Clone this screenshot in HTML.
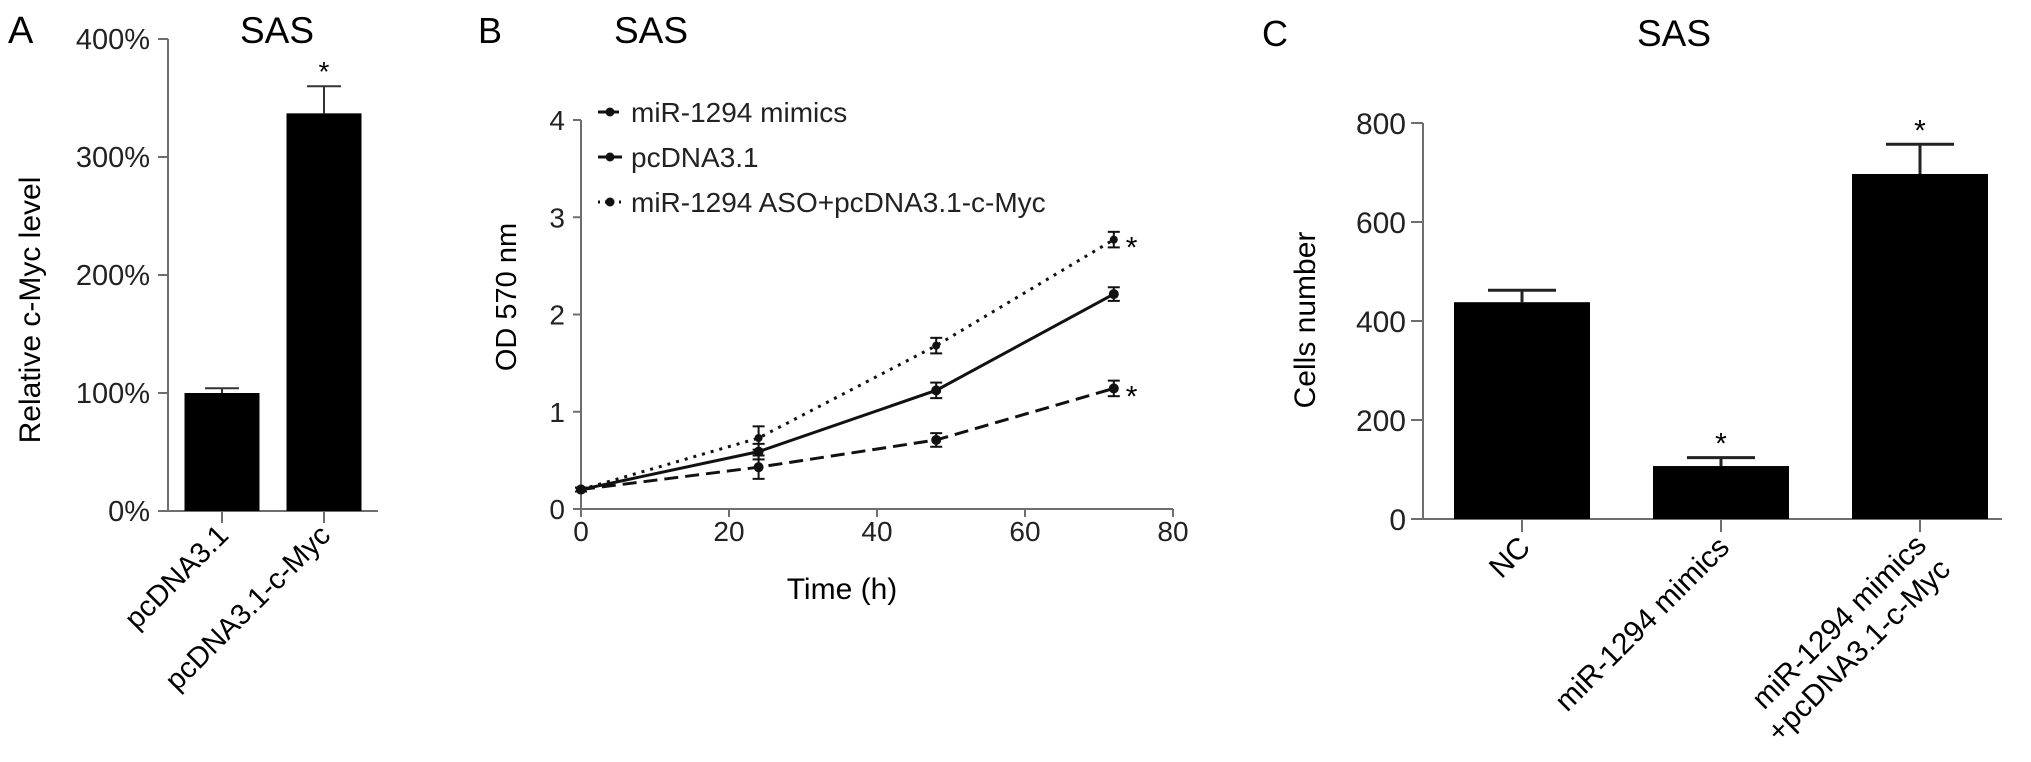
<!DOCTYPE html>
<html><head><meta charset="utf-8"><style>
html,body{margin:0;padding:0;background:#fff;}
svg{display:block;font-family:"Liberation Sans",Arial,sans-serif;}
</style></head><body>
<svg id="fig" width="2031" height="762" viewBox="0 0 2031 762">
<g id="pa"></g>
<g id="pb"></g>
<g id="pc"></g>
</svg>
<script>
// Panel A data
const aCats = ["pcDNA3.1", "pcDNA3.1-c-Myc"];
const aVals = [100, 337];
const aErr = [4, 23];
const aSig = [false, true];
const aTicks = [0, 100, 200, 300, 400];
// Panel B data
const bTimes = [0, 24, 48, 72];
const bMimics = [0.2, 0.43, 0.71, 1.24];
const bMimicsErr = [0.02, 0.12, 0.07, 0.08];
const bPc = [0.2, 0.59, 1.22, 2.21];
const bPcErr = [0.02, 0.08, 0.08, 0.07];
const bAso = [0.2, 0.73, 1.68, 2.77];
const bAsoErr = [0.02, 0.12, 0.08, 0.08];
const bYTicks = [0, 1, 2, 3, 4];
const bXTicks = [0, 20, 40, 60, 80];
const bSeriesNames = ["miR-1294 mimics", "pcDNA3.1", "miR-1294 ASO+pcDNA3.1-c-Myc"];
// Panel C data
const cCats = [["NC"], ["miR-1294 mimics"], ["miR-1294 mimics", "+pcDNA3.1-c-Myc"]];
const cVals = [438, 107, 697];
const cErr = [24, 17, 60];
const cSig = [false, true, true];
const cTicks = [0, 200, 400, 600, 800];

const NS = "http://www.w3.org/2000/svg";
function mk(parent, tag, attrs, text) {
  const e = document.createElementNS(NS, tag);
  for (const k in attrs) e.setAttribute(k, attrs[k]);
  if (text !== undefined) e.textContent = text;
  parent.appendChild(e);
  return e;
}
const AX = "#6e6e6e";

// ---------- Panel A ----------
(function () {
  const g = document.getElementById("pa");
  const x0 = 168, y0 = 511, yTop = 39, xEnd = 378;
  const ya = v => y0 - (v / 400) * (y0 - yTop);
  let t = mk(g, "text", {x: 8, y: 43, "font-size": 38}, "A");
   
  t = mk(g, "text", {x: 277, y: 43, "font-size": 37, "text-anchor": "middle"}, "SAS");
   
  let l = mk(g, "line", {x1: x0, y1: yTop, x2: x0, y2: y0, stroke: AX, "stroke-width": 2});
   
  l = mk(g, "line", {x1: x0 - 10, y1: y0, x2: xEnd, y2: y0, stroke: AX, "stroke-width": 2});
   
  aTicks.forEach(v => {
    mk(g, "line", {x1: x0 - 10, y1: ya(v), x2: x0, y2: ya(v), stroke: AX, "stroke-width": 2});
    const tt = mk(g, "text", {x: 150, y: ya(v) + 10, "font-size": 29, "text-anchor": "end", fill: "#222"}, v + "%");
     
  });
  t = mk(g, "text", {x: 0, y: 0, "font-size": 30, "text-anchor": "middle", transform: "translate(40,310) rotate(-90)"}, "Relative c-Myc level");
   
  const bw = 75, step = 102, first = 222;
  aVals.forEach((v, i) => {
    const cx = first + i * step;
    const b = mk(g, "rect", {x: cx - bw / 2, y: ya(v), width: bw, height: y0 - ya(v), fill: "#000"});
     
    const ey = ya(v + aErr[i]);
    mk(g, "line", {x1: cx, y1: ey, x2: cx, y2: ya(v), stroke: "#333", "stroke-width": 2});
    mk(g, "line", {x1: cx - 17, y1: ey, x2: cx + 17, y2: ey, stroke: "#333", "stroke-width": 2});
    if (aSig[i]) {
      const s = mk(g, "text", {x: cx, y: ey - 5, "font-size": 28, "text-anchor": "middle"}, "*");
       
    }
    mk(g, "line", {x1: cx, y1: y0, x2: cx, y2: y0 + 12, stroke: AX, "stroke-width": 2});
    const lb = mk(g, "text", {x: 0, y: 0, "font-size": 29, "text-anchor": "end", transform: `translate(${cx + 8},${y0 + 26}) rotate(-45)`}, aCats[i]);
     
  });
})();

// ---------- Panel B ----------
(function () {
  const g = document.getElementById("pb");
  const x0 = 581, xEnd = 1173, y0 = 509, yTop = 120;
  const xb = v => x0 + (v / 80) * (xEnd - x0);
  const yb = v => y0 - (v / 4) * (y0 - yTop);
  let t = mk(g, "text", {x: 478, y: 43, "font-size": 36}, "B");
   
  t = mk(g, "text", {x: 651, y: 43, "font-size": 37, "text-anchor": "middle"}, "SAS");
   
  let l = mk(g, "line", {x1: x0, y1: yTop, x2: x0, y2: y0, stroke: AX, "stroke-width": 2});
   
  l = mk(g, "line", {x1: x0, y1: y0, x2: xEnd, y2: y0, stroke: AX, "stroke-width": 2});
   
  bYTicks.forEach(v => {
    mk(g, "line", {x1: x0 - 8, y1: yb(v), x2: x0, y2: yb(v), stroke: AX, "stroke-width": 2});
    const tt = mk(g, "text", {x: 565, y: yb(v) + 10, "font-size": 28, "text-anchor": "end", fill: "#222"}, v);
     
  });
  bXTicks.forEach(v => {
    mk(g, "line", {x1: xb(v), y1: y0, x2: xb(v), y2: y0 + 8, stroke: AX, "stroke-width": 2});
    const tt = mk(g, "text", {x: xb(v), y: 541, "font-size": 28, "text-anchor": "middle", fill: "#222"}, v);
     
  });
  t = mk(g, "text", {x: 0, y: 0, "font-size": 29, "text-anchor": "middle", transform: "translate(516,297) rotate(-90)"}, "OD 570 nm");
   
  t = mk(g, "text", {x: 842, y: 599, "font-size": 30, "text-anchor": "middle"}, "Time (h)");
   
  const series = [
    {vals: bMimics, err: bMimicsErr, dash: "14 7", name: "line-mimics", star: true},
    {vals: bPc, err: bPcErr, dash: "none", name: "line-pcdna3-1", star: false},
    {vals: bAso, err: bAsoErr, dash: "3 6", name: "line-aso-c-myc", star: true}
  ];
  series.forEach((s, si) => {
    const pts = s.vals.map((v, i) => xb(bTimes[i]) + "," + yb(v)).join(" ");
    const p = mk(g, "polyline", {points: pts, fill: "none", stroke: "#111", "stroke-width": 3, "stroke-dasharray": s.dash});
     
    s.vals.forEach((v, i) => {
      const cx = xb(bTimes[i]);
      const e1 = yb(v + s.err[i]), e2 = yb(v - s.err[i]);
      mk(g, "line", {x1: cx, y1: e1, x2: cx, y2: e2, stroke: "#111", "stroke-width": 2});
      mk(g, "line", {x1: cx - 6, y1: e1, x2: cx + 6, y2: e1, stroke: "#111", "stroke-width": 2});
      mk(g, "line", {x1: cx - 6, y1: e2, x2: cx + 6, y2: e2, stroke: "#111", "stroke-width": 2});
      const m = mk(g, "circle", {cx: cx, cy: yb(v), r: si === 2 ? 4 : 5, fill: "#111"});
       
    });
    if (s.star) {
      const n = s.vals.length - 1;
      const st = mk(g, "text", {x: xb(bTimes[n]) + 12, y: yb(s.vals[n]) + 18, "font-size": 30}, "*");
       
    }
    const ly = 112 + si * 45;
    const lg = mk(g, "g", {});
     
    mk(lg, "line", {x1: 598, y1: ly, x2: 622, y2: ly, stroke: "#111", "stroke-width": 3, "stroke-dasharray": si === 0 ? "9 3" : (si === 2 ? "2 5" : "none")});
    mk(lg, "circle", {cx: 610, cy: ly, r: 4.5, fill: "#111"});
    mk(lg, "text", {x: 631, y: ly + 10, "font-size": 28, fill: "#222"}, bSeriesNames[si]);
  });
})();

// ---------- Panel C ----------
(function () {
  const g = document.getElementById("pc");
  const x0 = 1423, xEnd = 2002, y0 = 519, yTop = 123;
  const yc = v => y0 - (v / 800) * (y0 - yTop);
  let t = mk(g, "text", {x: 1262, y: 46, "font-size": 36}, "C");
   
  t = mk(g, "text", {x: 1674, y: 46, "font-size": 37, "text-anchor": "middle"}, "SAS");
   
  let l = mk(g, "line", {x1: x0, y1: yTop, x2: x0, y2: y0, stroke: AX, "stroke-width": 2});
   
  l = mk(g, "line", {x1: x0 - 12, y1: y0, x2: xEnd, y2: y0, stroke: AX, "stroke-width": 2});
   
  cTicks.forEach(v => {
    mk(g, "line", {x1: x0 - 12, y1: yc(v), x2: x0, y2: yc(v), stroke: AX, "stroke-width": 2});
    const tt = mk(g, "text", {x: 1406, y: yc(v) + 11, "font-size": 30, "text-anchor": "end", fill: "#222"}, v);
     
  });
  t = mk(g, "text", {x: 0, y: 0, "font-size": 30, "text-anchor": "middle", transform: "translate(1315,320) rotate(-90)"}, "Cells number");
   
  const bw = 136, step = 199, first = 1522;
  cVals.forEach((v, i) => {
    const cx = first + i * step;
    const b = mk(g, "rect", {x: cx - bw / 2, y: yc(v), width: bw, height: y0 - yc(v), fill: "#000"});
     
    const ey = yc(v + cErr[i]);
    mk(g, "line", {x1: cx, y1: ey, x2: cx, y2: yc(v), stroke: "#222", "stroke-width": 3});
    mk(g, "line", {x1: cx - 34, y1: ey, x2: cx + 34, y2: ey, stroke: "#222", "stroke-width": 3});
    if (cSig[i]) {
      const s = mk(g, "text", {x: cx, y: ey - 4, "font-size": 30, "text-anchor": "middle"}, "*");
       
    }
    mk(g, "line", {x1: cx, y1: y0, x2: cx, y2: y0 + 13, stroke: AX, "stroke-width": 2});
    const lines = cCats[i];
    const n = lines.length;
    lines.forEach((txt, k) => {
      const off = (n - 1 - k) * 34;
      const bx = cx + 10 + (n > 1 ? 22 : 0);
      const by = y0 + 30 + (n > 1 ? 22 : 0);
      const dx = bx - off * 0.707, dy = by - off * 0.707;
      const lb = mk(g, "text", {x: 0, y: 0, "font-size": 30, "text-anchor": "end", transform: `translate(${dx},${dy}) rotate(-45)`}, txt);
       
    });
  });
})();
</script>
</body></html>
